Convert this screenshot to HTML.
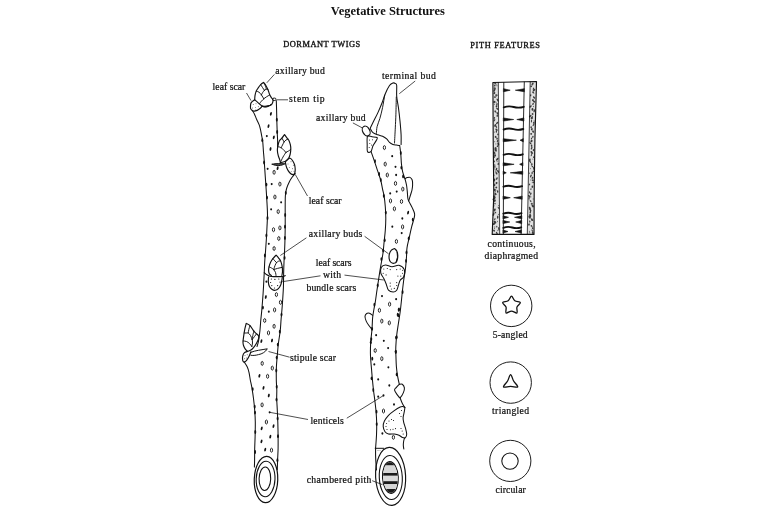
<!DOCTYPE html>
<html><head><meta charset="utf-8"><title>Vegetative Structures</title>
<style>html,body{margin:0;padding:0;background:#fff;}body{width:768px;height:511px;overflow:hidden;font-family:"Liberation Serif",serif;}svg{display:block;will-change:transform;}</style>
</head><body>
<svg width="768" height="511" viewBox="0 0 768 511" font-family="Liberation Serif, serif" fill="#111"><text x="330.8" y="15.3" font-size="12.4" font-weight="bold" textLength="114" lengthAdjust="spacingAndGlyphs">Vegetative Structures</text>
<text x="283.2" y="46.8" font-size="8.4" font-weight="normal" textLength="77" lengthAdjust="spacing" stroke="#111" stroke-width="0.35">DORMANT TWIGS</text>
<text x="470.3" y="47.6" font-size="8.4" font-weight="normal" textLength="69.7" lengthAdjust="spacing" stroke="#111" stroke-width="0.35">PITH FEATURES</text>
<text x="275.2" y="73.6" font-size="9.7" font-weight="normal" textLength="49.6" lengthAdjust="spacing" stroke="#111" stroke-width="0.22">axillary bud</text>
<text x="212.6" y="90" font-size="9.7" font-weight="normal" textLength="32.7" lengthAdjust="spacing" stroke="#111" stroke-width="0.22">leaf scar</text>
<text x="289.1" y="102.4" font-size="9.7" font-weight="normal" textLength="35.6" lengthAdjust="spacing" stroke="#111" stroke-width="0.22">stem tip</text>
<text x="382" y="78.6" font-size="9.7" font-weight="normal" textLength="53.8" lengthAdjust="spacing" stroke="#111" stroke-width="0.22">terminal bud</text>
<text x="316" y="121.4" font-size="9.7" font-weight="normal" textLength="49.6" lengthAdjust="spacing" stroke="#111" stroke-width="0.22">axillary bud</text>
<text x="308.8" y="204" font-size="9.7" font-weight="normal" textLength="32.8" lengthAdjust="spacing" stroke="#111" stroke-width="0.22">leaf scar</text>
<text x="308.8" y="236.8" font-size="9.7" font-weight="normal" textLength="53.5" lengthAdjust="spacing" stroke="#111" stroke-width="0.22">axillary buds</text>
<text x="315.8" y="265.5" font-size="9.7" font-weight="normal" textLength="35.7" lengthAdjust="spacing" stroke="#111" stroke-width="0.22">leaf scars</text>
<text x="322.9" y="278.4" font-size="9.7" font-weight="normal" textLength="18.3" lengthAdjust="spacing" stroke="#111" stroke-width="0.22">with</text>
<text x="306.4" y="290.8" font-size="9.7" font-weight="normal" textLength="49.8" lengthAdjust="spacing" stroke="#111" stroke-width="0.22">bundle scars</text>
<text x="289.9" y="361" font-size="9.7" font-weight="normal" textLength="46.1" lengthAdjust="spacing" stroke="#111" stroke-width="0.22">stipule scar</text>
<text x="310.5" y="423.5" font-size="9.7" font-weight="normal" textLength="33.4" lengthAdjust="spacing" stroke="#111" stroke-width="0.22">lenticels</text>
<text x="306.7" y="483.3" font-size="9.7" font-weight="normal" textLength="64.7" lengthAdjust="spacing" stroke="#111" stroke-width="0.22">chambered pith</text>
<text x="487.6" y="247" font-size="9.7" font-weight="normal" textLength="48" lengthAdjust="spacing" stroke="#111" stroke-width="0.22">continuous,</text>
<text x="484.6" y="259" font-size="9.7" font-weight="normal" textLength="53.4" lengthAdjust="spacing" stroke="#111" stroke-width="0.22">diaphragmed</text>
<text x="492.7" y="338.2" font-size="9.7" font-weight="normal" textLength="35" lengthAdjust="spacing" stroke="#111" stroke-width="0.22">5-angled</text>
<text x="492.1" y="414" font-size="9.7" font-weight="normal" textLength="36.9" lengthAdjust="spacing" stroke="#111" stroke-width="0.22">triangled</text>
<text x="495.5" y="493.1" font-size="9.7" font-weight="normal" textLength="30.3" lengthAdjust="spacing" stroke="#111" stroke-width="0.22">circular</text>
<line x1="274.4" y1="74.4" x2="266.8" y2="82.8" stroke="#222" stroke-width="0.8"/>
<line x1="246.5" y1="93" x2="251" y2="100.6" stroke="#222" stroke-width="0.8"/>
<line x1="277" y1="99.8" x2="288" y2="99.8" stroke="#222" stroke-width="0.8"/>
<line x1="415.2" y1="81" x2="399.3" y2="93.7" stroke="#222" stroke-width="0.8"/>
<line x1="352.9" y1="122.9" x2="362.5" y2="128" stroke="#222" stroke-width="0.8"/>
<line x1="295.2" y1="174.4" x2="307.5" y2="196" stroke="#222" stroke-width="0.8"/>
<line x1="280.3" y1="255.5" x2="306.4" y2="237.8" stroke="#222" stroke-width="0.8"/>
<line x1="364.6" y1="236.3" x2="388.5" y2="253.8" stroke="#222" stroke-width="0.8"/>
<line x1="282.3" y1="281.7" x2="320.5" y2="275.8" stroke="#222" stroke-width="0.8"/>
<line x1="344.5" y1="275.1" x2="383.8" y2="280" stroke="#222" stroke-width="0.8"/>
<line x1="268.5" y1="351.5" x2="289.6" y2="357.2" stroke="#222" stroke-width="0.8"/>
<line x1="269.6" y1="412.3" x2="308" y2="419.5" stroke="#222" stroke-width="0.8"/>
<line x1="346.8" y1="418.2" x2="383.5" y2="395.5" stroke="#222" stroke-width="0.8"/>
<line x1="372.2" y1="480.7" x2="382.5" y2="484.7" stroke="#222" stroke-width="0.8"/>
<path d="M252.2,110.4 C252.57,110.98 253.67,112.43 254.4,113.9 C255.13,115.37 255.8,117.37 256.6,119.2 C257.4,121.03 258.55,123.15 259.2,124.9 C259.85,126.65 260.08,127.87 260.5,129.7 C260.92,131.53 261.33,133.98 261.7,135.9 C262.07,137.82 262.42,138.68 262.7,141.2 C262.98,143.72 263.17,147.98 263.4,151 C263.63,154.02 263.78,154.97 264.1,159.3 C264.42,163.63 264.95,171.88 265.3,177 C265.65,182.12 265.92,185.67 266.2,190 C266.48,194.33 266.78,198.83 267,203 C267.22,207.17 267.5,211.05 267.5,215 C267.5,218.95 267.18,222.78 267,226.7 C266.82,230.62 266.63,234.58 266.4,238.5 C266.17,242.42 265.88,246.28 265.6,250.2 C265.32,254.12 264.93,258.12 264.7,262 C264.47,265.88 264.47,268.25 264.2,273.5 C263.93,278.75 263.52,287.23 263.1,293.5 C262.68,299.77 262.08,306.68 261.7,311.1 C261.32,315.52 261.1,316.68 260.8,320 C260.5,323.32 260.28,327.48 259.9,331 C259.52,334.52 258.98,338.52 258.5,341.1 C258.02,343.68 257.25,345.6 257,346.5" fill="none" stroke="#111" stroke-width="1.05" stroke-linecap="round" stroke-linejoin="round"/>
<path d="M244,361.8 C244.55,362.67 246.45,365.17 247.3,367 C248.15,368.83 248.6,370.63 249.1,372.8 C249.6,374.97 249.87,377.68 250.3,380 C250.73,382.32 251.17,383.62 251.7,386.7 C252.23,389.78 253,394.58 253.5,398.5 C254,402.42 254.4,406.28 254.7,410.2 C255,414.12 255.23,417.58 255.3,422 C255.37,426.42 255.2,432.28 255.1,436.7 C255,441.12 254.78,444.58 254.7,448.5 C254.62,452.42 254.65,457.12 254.6,460.2 C254.55,463.28 254.43,465.87 254.4,467" fill="none" stroke="#111" stroke-width="1.05" stroke-linecap="round" stroke-linejoin="round"/>
<path d="M276.3,100.5 C276.35,102.08 276.52,106.8 276.6,110 C276.68,113.2 276.7,116.03 276.8,119.7 C276.9,123.37 277.07,128.62 277.2,132 C277.33,135.38 277.53,137.6 277.6,140 C277.67,142.4 277.6,145.33 277.6,146.4" fill="none" stroke="#111" stroke-width="1.05" stroke-linecap="round" stroke-linejoin="round"/>
<path d="M295.2,173.4 C294.72,174 293.25,175.65 292.3,177 C291.35,178.35 290.45,179.58 289.5,181.5 C288.55,183.42 287.28,186.22 286.6,188.5 C285.92,190.78 285.63,192.45 285.4,195.2 C285.17,197.95 285.23,201.87 285.2,205 C285.17,208.13 285.2,210.38 285.2,214 C285.2,217.62 285.23,222.62 285.2,226.7 C285.17,230.78 285.1,234.58 285,238.5 C284.9,242.42 284.77,246.28 284.6,250.2 C284.43,254.12 284.17,257.87 284,262 C283.83,266.13 283.7,270.73 283.6,275 C283.5,279.27 283.62,282.57 283.4,287.6 C283.18,292.63 282.68,299.92 282.3,305.2 C281.92,310.48 281.45,315 281.1,319.3 C280.75,323.6 280.65,326.97 280.2,331 C279.75,335.03 278.88,339.47 278.4,343.5 C277.92,347.53 277.63,351.28 277.3,355.2 C276.97,359.12 276.57,362.87 276.4,367 C276.23,371.13 276.23,376.17 276.3,380 C276.37,383.83 276.73,386.92 276.8,390 C276.87,393.08 276.62,395.13 276.7,398.5 C276.78,401.87 277.12,406.28 277.3,410.2 C277.48,414.12 277.67,417.58 277.8,422 C277.93,426.42 278.05,432.28 278.1,436.7 C278.15,441.12 278.18,444.58 278.1,448.5 C278.02,452.42 277.73,456.65 277.6,460.2 C277.47,463.75 277.35,468.2 277.3,469.8" fill="none" stroke="#111" stroke-width="1.05" stroke-linecap="round" stroke-linejoin="round"/>
<ellipse cx="274.3" cy="99.3" rx="1.8" ry="1.25" fill="none" stroke="#111" stroke-width="1.0"/>
<path d="M254.7,99.8 C254.75,99.1 254.77,97 255,95.6 C255.23,94.2 255.57,92.68 256.1,91.4 C256.63,90.12 257.43,89.02 258.2,87.9 C258.97,86.78 259.82,85.62 260.7,84.7 C261.58,83.78 263.03,82.78 263.5,82.4 L263.5,82.4 C263.92,82.95 265.23,84.43 266,85.7 C266.77,86.97 267.52,88.58 268.1,90 C268.68,91.42 268.98,92.97 269.5,94.2 C270.02,95.43 270.68,96.58 271.2,97.4 C271.72,98.22 272.3,98.47 272.6,99.1 C272.9,99.73 273.12,100.37 273,101.2 C272.88,102.03 272.43,103.38 271.9,104.1 C271.37,104.82 270.85,105.15 269.8,105.5 C268.75,105.85 266.88,106.08 265.6,106.2 C264.32,106.32 262.68,106.2 262.1,106.2" fill="none" stroke="#111" stroke-width="1.15" stroke-linecap="round" stroke-linejoin="round"/>
<path d="M254.7,99.8 C255.12,100.15 256.38,101.18 257.2,101.9 C258.02,102.62 258.78,103.42 259.6,104.1 C260.42,104.78 261.68,105.68 262.1,106" fill="none" stroke="#111" stroke-width="1.1" stroke-linecap="round" stroke-linejoin="round"/>
<path d="M256.3,91.2 C256.75,91.37 258.15,91.58 259,92.2 C259.85,92.82 260.6,93.8 261.4,94.9 C262.2,96 263.4,98.15 263.8,98.8" fill="none" stroke="#111" stroke-width="0.95" stroke-linecap="round" stroke-linejoin="round"/>
<path d="M263.8,98.8 C264.25,98.47 265.53,97.43 266.5,96.8 C267.47,96.17 269.08,95.3 269.6,95" fill="none" stroke="#111" stroke-width="0.95" stroke-linecap="round" stroke-linejoin="round"/>
<path d="M263.8,98.8 C263.4,99.2 262.1,100.4 261.4,101.2 C260.7,102 259.9,103.2 259.6,103.6" fill="none" stroke="#111" stroke-width="0.95" stroke-linecap="round" stroke-linejoin="round"/>
<path d="M260.7,84.7 C261,85.17 261.88,86.57 262.5,87.5 C263.12,88.43 264.08,89.83 264.4,90.3" fill="none" stroke="#111" stroke-width="0.95" stroke-linecap="round" stroke-linejoin="round"/>
<path d="M264.4,90.3 C264.1,90.68 263.1,91.83 262.6,92.6 C262.1,93.37 261.6,94.52 261.4,94.9" fill="none" stroke="#111" stroke-width="0.95" stroke-linecap="round" stroke-linejoin="round"/>
<path d="M264.4,90.3 C264.7,90.12 265.6,89.32 266.2,89.2 C266.8,89.08 267.7,89.53 268,89.6" fill="none" stroke="#111" stroke-width="0.95" stroke-linecap="round" stroke-linejoin="round"/>
<path d="M263.9,83 C264.17,83.53 265.12,85.23 265.5,86.2 C265.88,87.17 266.08,88.37 266.2,88.8" fill="none" stroke="#111" stroke-width="0.9" stroke-linecap="round" stroke-linejoin="round"/>
<path d="M262.1,106.2 C264,107.6 267,107.8 271.2,104.6 C268.5,106.4 265.5,106.9 262.1,106.2Z" fill="#555" stroke="#111" stroke-width="1.0" stroke-linecap="round" stroke-linejoin="round"/>
<path d="M254.7,99.8 C254.12,100.27 251.9,101.53 251.2,102.6 C250.5,103.67 250.57,105.13 250.5,106.2 C250.43,107.27 250.28,108.18 250.8,109 C251.32,109.82 252.53,110.87 253.6,111.1 C254.67,111.33 256.08,110.87 257.2,110.4 C258.32,109.93 259.48,109 260.3,108.3 C261.12,107.6 261.8,106.55 262.1,106.2" fill="none" stroke="#111" stroke-width="1.15" stroke-linecap="round" stroke-linejoin="round"/>
<circle cx="253.2" cy="104.5" r="0.45" fill="#111"/>
<circle cx="256" cy="103.8" r="0.45" fill="#111"/>
<circle cx="252.6" cy="108" r="0.45" fill="#111"/>
<circle cx="255.4" cy="107.6" r="0.45" fill="#111"/>
<circle cx="258.3" cy="106.8" r="0.45" fill="#111"/>
<circle cx="255.8" cy="110" r="0.45" fill="#111"/>
<path d="M280.4,162.7 C280.28,162.2 280.07,160.93 279.7,159.7 C279.33,158.47 278.58,156.78 278.2,155.3 C277.82,153.82 277.47,152.3 277.4,150.8 C277.33,149.3 277.48,147.92 277.8,146.3 C278.12,144.68 278.62,142.45 279.3,141.1 C279.98,139.75 281.03,139.3 281.9,138.2 C282.77,137.1 284.07,135.12 284.5,134.5 L284.5,134.5 C284.93,135.12 286.37,137.22 287.1,138.2 C287.83,139.18 288.35,139.28 288.9,140.4 C289.45,141.52 290.08,143.42 290.4,144.9 C290.72,146.38 290.85,147.7 290.8,149.3 C290.75,150.9 290.47,153.02 290.1,154.5 C289.73,155.98 289.35,157.08 288.6,158.2 C287.85,159.32 286.97,160.45 285.6,161.2 C284.23,161.95 281.27,162.45 280.4,162.7" fill="none" stroke="#111" stroke-width="1.15" stroke-linecap="round" stroke-linejoin="round"/>
<path d="M281.9,138.2 C282.08,138.5 282.63,139.38 283,140 C283.37,140.62 283.92,141.58 284.1,141.9" fill="none" stroke="#111" stroke-width="0.95" stroke-linecap="round" stroke-linejoin="round"/>
<path d="M284.1,141.9 C284.42,141.58 285.35,140.45 286,140 C286.65,139.55 287.67,139.33 288,139.2" fill="none" stroke="#111" stroke-width="0.95" stroke-linecap="round" stroke-linejoin="round"/>
<path d="M284.1,141.9 C283.83,142.42 283,144.02 282.5,145 C282,145.98 281.33,147.33 281.1,147.8" fill="none" stroke="#111" stroke-width="0.95" stroke-linecap="round" stroke-linejoin="round"/>
<path d="M277.8,146.7 C278.08,146.75 278.95,146.82 279.5,147 C280.05,147.18 280.43,147.33 281.1,147.8 C281.77,148.27 282.68,149.05 283.5,149.8 C284.32,150.55 285.58,151.88 286,152.3" fill="none" stroke="#111" stroke-width="0.95" stroke-linecap="round" stroke-linejoin="round"/>
<path d="M286,152.3 C286.42,152.08 287.72,151.47 288.5,151 C289.28,150.53 290.33,149.75 290.7,149.5" fill="none" stroke="#111" stroke-width="0.95" stroke-linecap="round" stroke-linejoin="round"/>
<path d="M286,152.3 C285.5,153.08 283.93,155.3 283,157 C282.07,158.7 280.83,161.58 280.4,162.5" fill="none" stroke="#111" stroke-width="0.95" stroke-linecap="round" stroke-linejoin="round"/>
<path d="M272.2,164.2 C276,163.4 280.5,163.6 284.9,163.8 C281.5,165.8 276.5,166.4 272.2,164.2Z" fill="#555" stroke="#111" stroke-width="1.0" stroke-linecap="round" stroke-linejoin="round"/>
<path d="M285.6,161.5 C285.92,160.83 286.75,160.05 287.5,159.5 C288.25,158.95 289.27,158.03 290.1,158.2 C290.93,158.37 291.77,159.45 292.5,160.5 C293.23,161.55 294.05,163.08 294.5,164.5 C294.95,165.92 295.15,167.58 295.2,169 C295.25,170.42 295.17,172.07 294.8,173 C294.43,173.93 293.88,174.68 293,174.6 C292.12,174.52 290.53,173.6 289.5,172.5 C288.47,171.4 287.45,169.5 286.8,168 C286.15,166.5 285.8,164.58 285.6,163.5 C285.4,162.42 285.28,162.17 285.6,161.5Z" fill="none" stroke="#111" stroke-width="1.15" stroke-linecap="round" stroke-linejoin="round"/>
<circle cx="288" cy="164" r="0.45" fill="#111"/>
<circle cx="291" cy="161.8" r="0.45" fill="#111"/>
<circle cx="293.3" cy="165.2" r="0.45" fill="#111"/>
<circle cx="289.3" cy="167.4" r="0.45" fill="#111"/>
<circle cx="292.6" cy="168.8" r="0.45" fill="#111"/>
<circle cx="291.2" cy="171.6" r="0.45" fill="#111"/>
<circle cx="294" cy="171.2" r="0.45" fill="#111"/>
<path d="M271.4,275.5 C271.07,275.23 269.87,274.68 269.4,273.9 C268.93,273.12 268.67,271.97 268.6,270.8 C268.53,269.63 268.67,268.33 269,266.9 C269.33,265.47 269.95,263.58 270.6,262.2 C271.25,260.82 271.98,259.78 272.9,258.6 C273.82,257.42 275.57,255.68 276.1,255.1 L276.1,255.1 C276.55,255.63 278.02,257.25 278.8,258.3 C279.58,259.35 280.23,259.97 280.8,261.4 C281.37,262.83 281.92,265.22 282.2,266.9 C282.48,268.58 282.55,270.07 282.5,271.5 C282.45,272.93 282,274.83 281.9,275.5" fill="none" stroke="#111" stroke-width="1.15" stroke-linecap="round" stroke-linejoin="round"/>
<path d="M272.9,258.6 C273.22,258.97 274.2,260.13 274.8,260.8 C275.4,261.47 276.22,262.3 276.5,262.6" fill="none" stroke="#111" stroke-width="0.95" stroke-linecap="round" stroke-linejoin="round"/>
<path d="M276.5,262.6 C276.83,262.37 277.85,261.47 278.5,261.2 C279.15,260.93 280.08,261.03 280.4,261" fill="none" stroke="#111" stroke-width="0.95" stroke-linecap="round" stroke-linejoin="round"/>
<path d="M276.5,262.6 C276.25,263.08 275.47,264.33 275,265.5 C274.53,266.67 273.92,268.92 273.7,269.6" fill="none" stroke="#111" stroke-width="0.95" stroke-linecap="round" stroke-linejoin="round"/>
<path d="M269.2,266.9 C269.58,267.08 270.75,267.55 271.5,268 C272.25,268.45 273.03,268.85 273.7,269.6 C274.37,270.35 275.12,271.52 275.5,272.5 C275.88,273.48 275.92,275 276,275.5" fill="none" stroke="#111" stroke-width="0.95" stroke-linecap="round" stroke-linejoin="round"/>
<path d="M273.7,269.6 C274.33,269.4 276.12,268.77 277.5,268.4 C278.88,268.03 281.25,267.57 282,267.4" fill="none" stroke="#111" stroke-width="0.95" stroke-linecap="round" stroke-linejoin="round"/>
<path d="M264.3,272.7 C264.7,273.03 265.78,274.12 266.7,274.7 C267.62,275.28 268.5,275.88 269.8,276.2 C271.1,276.52 272.8,276.53 274.5,276.6 C276.2,276.67 278.43,276.67 280,276.6 C281.57,276.53 283.03,276.37 283.9,276.2 C284.77,276.03 284.98,275.7 285.2,275.6" fill="none" stroke="#111" stroke-width="1.15" stroke-linecap="round" stroke-linejoin="round"/>
<path d="M268.6,277 C268.55,277.78 268.17,280.13 268.3,281.7 C268.43,283.27 268.75,285.1 269.4,286.4 C270.05,287.7 271.22,288.85 272.2,289.5 C273.18,290.15 274.27,290.43 275.3,290.3 C276.33,290.17 277.48,289.62 278.4,288.7 C279.32,287.78 280.22,286.23 280.8,284.8 C281.38,283.37 281.65,281.4 281.9,280.1 C282.15,278.8 282.23,277.52 282.3,277" fill="none" stroke="#111" stroke-width="1.15" stroke-linecap="round" stroke-linejoin="round"/>
<circle cx="271.4" cy="279" r="0.62" fill="#111"/>
<circle cx="274.9" cy="279.4" r="0.62" fill="#111"/>
<circle cx="278.8" cy="279" r="0.62" fill="#111"/>
<circle cx="270.6" cy="282.5" r="0.62" fill="#111"/>
<circle cx="280" cy="282.1" r="0.62" fill="#111"/>
<circle cx="271.8" cy="285.6" r="0.62" fill="#111"/>
<circle cx="277.6" cy="285.6" r="0.62" fill="#111"/>
<circle cx="274.5" cy="288" r="0.62" fill="#111"/>
<path d="M247.5,351.4 C247.13,351.03 245.95,350.13 245.3,349.2 C244.65,348.27 243.98,346.93 243.6,345.8 C243.22,344.67 243.05,343.55 243,342.4 C242.95,341.25 243.13,340.33 243.3,338.9 C243.47,337.47 243.73,335.52 244,333.8 C244.27,332.08 244.53,330.33 244.9,328.6 C245.27,326.87 245.98,324.27 246.2,323.4 L246.2,323.4 C246.83,323.77 248.72,324.3 250,325.6 C251.28,326.9 252.82,329.83 253.9,331.2 C254.98,332.57 255.72,333.02 256.5,333.8 C257.28,334.58 258.27,335.05 258.6,335.9 C258.93,336.75 258.85,337.68 258.5,338.9 C258.15,340.12 257.27,341.83 256.5,343.2 C255.73,344.57 254.83,345.95 253.9,347.1 C252.97,348.25 251.97,349.38 250.9,350.1 C249.83,350.82 248.07,351.18 247.5,351.4" fill="none" stroke="#111" stroke-width="1.15" stroke-linecap="round" stroke-linejoin="round"/>
<path d="M250,325.6 C249.8,326.25 249.1,328.27 248.8,329.5 C248.5,330.73 248.3,332.42 248.2,333" fill="none" stroke="#111" stroke-width="0.95" stroke-linecap="round" stroke-linejoin="round"/>
<path d="M244.2,333 C244.55,333 245.63,333 246.3,333 C246.97,333 247.5,332.58 248.2,333 C248.9,333.42 249.83,334.42 250.5,335.5 C251.17,336.58 251.92,338.83 252.2,339.5" fill="none" stroke="#111" stroke-width="0.95" stroke-linecap="round" stroke-linejoin="round"/>
<path d="M252.2,339.5 C252.58,339 253.78,337.45 254.5,336.5 C255.22,335.55 256.17,334.25 256.5,333.8" fill="none" stroke="#111" stroke-width="0.95" stroke-linecap="round" stroke-linejoin="round"/>
<path d="M253.9,331.2 C253.75,331.75 253.28,333.12 253,334.5 C252.72,335.88 252.33,338.67 252.2,339.5" fill="none" stroke="#111" stroke-width="0.95" stroke-linecap="round" stroke-linejoin="round"/>
<path d="M243.2,341 C243.75,341.08 245.45,341.08 246.5,341.5 C247.55,341.92 248.62,342.67 249.5,343.5 C250.38,344.33 251.42,346 251.8,346.5" fill="none" stroke="#111" stroke-width="0.95" stroke-linecap="round" stroke-linejoin="round"/>
<path d="M252.2,339.5 C252.25,340.08 252.57,341.83 252.5,343 C252.43,344.17 251.92,345.92 251.8,346.5" fill="none" stroke="#111" stroke-width="0.95" stroke-linecap="round" stroke-linejoin="round"/>
<path d="M247.5,351.4 C247,351.62 245.3,351.92 244.5,352.7 C243.7,353.48 243,354.82 242.7,356.1 C242.4,357.38 242.48,359.4 242.7,360.4 C242.92,361.4 243.35,362.1 244,362.1 C244.65,362.1 245.73,361.4 246.6,360.4 C247.47,359.4 248.48,357.53 249.2,356.1 C249.92,354.67 250.62,352.52 250.9,351.8" fill="none" stroke="#111" stroke-width="1.15" stroke-linecap="round" stroke-linejoin="round"/>
<circle cx="245" cy="355.5" r="0.45" fill="#111"/>
<circle cx="247.2" cy="354.8" r="0.45" fill="#111"/>
<circle cx="244.4" cy="358.8" r="0.45" fill="#111"/>
<circle cx="246.3" cy="358" r="0.45" fill="#111"/>
<path d="M250.9,352.3 C255,350.5 262,349.8 267.3,348.8 C265.5,352 262,354 258.5,354.6 C255.5,355.5 252.5,355.6 250.9,355.3" fill="none" stroke="#111" stroke-width="1.0" stroke-linecap="round" stroke-linejoin="round"/>
<ellipse cx="266" cy="479.5" rx="11.75" ry="23.2" fill="none" stroke="#111" stroke-width="1.2" transform="rotate(2 266 479.5)"/>
<ellipse cx="265.6" cy="479" rx="9.4" ry="17.7" fill="none" stroke="#111" stroke-width="1.1" transform="rotate(2 265.6 479)"/>
<ellipse cx="264.9" cy="478.7" rx="5.8" ry="11.75" fill="none" stroke="#111" stroke-width="1.1" transform="rotate(2 264.9 478.7)"/>
<ellipse cx="274.1" cy="172.3" rx="1.1" ry="2" fill="none" stroke="#111" stroke-width="0.9"/>
<ellipse cx="279.9" cy="184.1" rx="1.1" ry="2" fill="none" stroke="#111" stroke-width="0.9"/>
<ellipse cx="274.9" cy="197" rx="1.1" ry="2" fill="none" stroke="#111" stroke-width="0.9"/>
<ellipse cx="278.2" cy="211.6" rx="1.1" ry="2" fill="none" stroke="#111" stroke-width="0.9"/>
<ellipse cx="273.5" cy="229.7" rx="1.1" ry="2" fill="none" stroke="#111" stroke-width="0.9"/>
<ellipse cx="279.9" cy="227.9" rx="1.1" ry="2" fill="none" stroke="#111" stroke-width="0.9"/>
<ellipse cx="278.8" cy="238.5" rx="1.1" ry="2" fill="none" stroke="#111" stroke-width="0.9"/>
<ellipse cx="274.1" cy="248.5" rx="1.1" ry="2" fill="none" stroke="#111" stroke-width="0.9"/>
<ellipse cx="276.4" cy="294.6" rx="1.1" ry="2" fill="none" stroke="#111" stroke-width="0.9"/>
<ellipse cx="280.5" cy="302.3" rx="1.1" ry="2" fill="none" stroke="#111" stroke-width="0.9"/>
<ellipse cx="274.6" cy="309.9" rx="1.1" ry="2" fill="none" stroke="#111" stroke-width="0.9"/>
<ellipse cx="264.7" cy="320.5" rx="1.1" ry="2" fill="none" stroke="#111" stroke-width="0.9"/>
<ellipse cx="274.1" cy="326.3" rx="1.1" ry="2" fill="none" stroke="#111" stroke-width="0.9"/>
<ellipse cx="268.5" cy="332.9" rx="1.1" ry="2" fill="none" stroke="#111" stroke-width="0.9"/>
<ellipse cx="262.2" cy="363.4" rx="1.1" ry="2" fill="none" stroke="#111" stroke-width="0.9"/>
<ellipse cx="272.3" cy="368.1" rx="1.1" ry="2" fill="none" stroke="#111" stroke-width="0.9"/>
<ellipse cx="267.6" cy="376.3" rx="1.1" ry="2" fill="none" stroke="#111" stroke-width="0.9"/>
<ellipse cx="262.1" cy="404.9" rx="1.1" ry="2" fill="none" stroke="#111" stroke-width="0.9"/>
<ellipse cx="266.4" cy="422" rx="1.1" ry="2" fill="none" stroke="#111" stroke-width="0.9"/>
<ellipse cx="271.5" cy="450.2" rx="1.1" ry="2" fill="none" stroke="#111" stroke-width="0.9"/>
<ellipse cx="384.4" cy="147.6" rx="1.1" ry="2" fill="none" stroke="#111" stroke-width="0.9"/>
<ellipse cx="385.2" cy="164.1" rx="1.1" ry="2" fill="none" stroke="#111" stroke-width="0.9"/>
<ellipse cx="387.3" cy="175" rx="1.1" ry="2" fill="none" stroke="#111" stroke-width="0.9"/>
<ellipse cx="395.5" cy="183.4" rx="1.1" ry="2" fill="none" stroke="#111" stroke-width="0.9"/>
<ellipse cx="402.8" cy="189.1" rx="1.1" ry="2" fill="none" stroke="#111" stroke-width="0.9"/>
<ellipse cx="390.5" cy="200.9" rx="1.1" ry="2" fill="none" stroke="#111" stroke-width="0.9"/>
<ellipse cx="401.5" cy="201.5" rx="1.1" ry="2" fill="none" stroke="#111" stroke-width="0.9"/>
<ellipse cx="394.4" cy="208.8" rx="1.1" ry="2" fill="none" stroke="#111" stroke-width="0.9"/>
<ellipse cx="402.6" cy="226.9" rx="1.1" ry="2" fill="none" stroke="#111" stroke-width="0.9"/>
<ellipse cx="396.4" cy="241.4" rx="1.1" ry="2" fill="none" stroke="#111" stroke-width="0.9"/>
<ellipse cx="389.6" cy="304.2" rx="1.1" ry="2" fill="none" stroke="#111" stroke-width="0.9"/>
<ellipse cx="379.4" cy="310.3" rx="1.1" ry="2" fill="none" stroke="#111" stroke-width="0.9"/>
<ellipse cx="381.8" cy="321.1" rx="1.1" ry="2" fill="none" stroke="#111" stroke-width="0.9"/>
<ellipse cx="389.3" cy="322.9" rx="1.1" ry="2" fill="none" stroke="#111" stroke-width="0.9"/>
<ellipse cx="375.2" cy="350.5" rx="1.1" ry="2" fill="none" stroke="#111" stroke-width="0.9"/>
<ellipse cx="381.8" cy="358.7" rx="1.1" ry="2" fill="none" stroke="#111" stroke-width="0.9"/>
<ellipse cx="383.5" cy="411" rx="1.1" ry="2" fill="none" stroke="#111" stroke-width="0.9"/>
<ellipse cx="393.4" cy="437.3" rx="1.1" ry="2" fill="none" stroke="#111" stroke-width="0.9"/>
<ellipse cx="270.9" cy="113.8" rx="0.95" ry="1.9" fill="#111" transform="rotate(12 270.9 113.8)"/>
<ellipse cx="268.5" cy="126.1" rx="0.95" ry="1.9" fill="#111" transform="rotate(12 268.5 126.1)"/>
<ellipse cx="273.8" cy="137.3" rx="0.95" ry="1.9" fill="#111" transform="rotate(12 273.8 137.3)"/>
<ellipse cx="270.5" cy="149" rx="0.95" ry="1.9" fill="#111" transform="rotate(12 270.5 149)"/>
<ellipse cx="277.6" cy="168.2" rx="0.95" ry="1.9" fill="#111" transform="rotate(12 277.6 168.2)"/>
<ellipse cx="265.8" cy="297" rx="0.95" ry="1.9" fill="#111" transform="rotate(12 265.8 297)"/>
<ellipse cx="261.4" cy="341.1" rx="0.95" ry="1.9" fill="#111" transform="rotate(12 261.4 341.1)"/>
<ellipse cx="272" cy="340.5" rx="0.95" ry="1.9" fill="#111" transform="rotate(12 272 340.5)"/>
<ellipse cx="259.4" cy="375.8" rx="0.95" ry="1.9" fill="#111" transform="rotate(12 259.4 375.8)"/>
<ellipse cx="263.5" cy="387.9" rx="0.95" ry="1.9" fill="#111" transform="rotate(12 263.5 387.9)"/>
<ellipse cx="268.8" cy="395.5" rx="0.95" ry="1.9" fill="#111" transform="rotate(12 268.8 395.5)"/>
<ellipse cx="261.7" cy="428.4" rx="0.95" ry="1.9" fill="#111" transform="rotate(12 261.7 428.4)"/>
<ellipse cx="273.5" cy="426.1" rx="0.95" ry="1.9" fill="#111" transform="rotate(12 273.5 426.1)"/>
<ellipse cx="270.3" cy="436.7" rx="0.95" ry="1.9" fill="#111" transform="rotate(12 270.3 436.7)"/>
<ellipse cx="261.5" cy="441.4" rx="0.95" ry="1.9" fill="#111" transform="rotate(12 261.5 441.4)"/>
<ellipse cx="265.2" cy="449.6" rx="0.95" ry="1.9" fill="#111" transform="rotate(12 265.2 449.6)"/>
<ellipse cx="408.1" cy="212.6" rx="0.95" ry="1.9" fill="#111" transform="rotate(12 408.1 212.6)"/>
<ellipse cx="266.8" cy="136.1" rx="1" ry="1.15" fill="#111"/>
<ellipse cx="267.6" cy="168.8" rx="1" ry="1.15" fill="#111"/>
<ellipse cx="271.7" cy="184.1" rx="1" ry="1.15" fill="#111"/>
<ellipse cx="281.1" cy="202.3" rx="1" ry="1.15" fill="#111"/>
<ellipse cx="271.1" cy="209.3" rx="1" ry="1.15" fill="#111"/>
<ellipse cx="268.8" cy="243.8" rx="1" ry="1.15" fill="#111"/>
<ellipse cx="266.4" cy="281.7" rx="1" ry="1.15" fill="#111"/>
<ellipse cx="268.8" cy="311.7" rx="1" ry="1.15" fill="#111"/>
<ellipse cx="269.6" cy="412.3" rx="1" ry="1.15" fill="#111"/>
<ellipse cx="392.2" cy="156.2" rx="1" ry="1.15" fill="#111"/>
<ellipse cx="395.5" cy="166.8" rx="1" ry="1.15" fill="#111"/>
<ellipse cx="396.1" cy="175" rx="1" ry="1.15" fill="#111"/>
<ellipse cx="390.2" cy="193.4" rx="1" ry="1.15" fill="#111"/>
<ellipse cx="396.7" cy="191.6" rx="1" ry="1.15" fill="#111"/>
<ellipse cx="402.3" cy="218.5" rx="1" ry="1.15" fill="#111"/>
<ellipse cx="392.3" cy="226.7" rx="1" ry="1.15" fill="#111"/>
<ellipse cx="401.7" cy="233.1" rx="1" ry="1.15" fill="#111"/>
<ellipse cx="382" cy="296.1" rx="1" ry="1.15" fill="#111"/>
<ellipse cx="396.1" cy="299.2" rx="1" ry="1.15" fill="#111"/>
<ellipse cx="376.1" cy="335.2" rx="1" ry="1.15" fill="#111"/>
<ellipse cx="383.8" cy="340.8" rx="1" ry="1.15" fill="#111"/>
<ellipse cx="388.1" cy="348.1" rx="1" ry="1.15" fill="#111"/>
<ellipse cx="374.3" cy="364.4" rx="1" ry="1.15" fill="#111"/>
<ellipse cx="388.4" cy="367.3" rx="1" ry="1.15" fill="#111"/>
<ellipse cx="378.2" cy="379.4" rx="1" ry="1.15" fill="#111"/>
<ellipse cx="389.3" cy="385.5" rx="1" ry="1.15" fill="#111"/>
<ellipse cx="378.2" cy="396.7" rx="1" ry="1.15" fill="#111"/>
<ellipse cx="383.5" cy="395.5" rx="1" ry="1.15" fill="#111"/>
<ellipse cx="394" cy="404.5" rx="1" ry="1.15" fill="#111"/>
<ellipse cx="382.4" cy="433.5" rx="1" ry="1.15" fill="#111"/>
<ellipse cx="262.3" cy="140.2" rx="0.95" ry="1.9" fill="#111"/>
<ellipse cx="264.1" cy="162.5" rx="0.95" ry="1.9" fill="#111"/>
<ellipse cx="266.4" cy="184.6" rx="0.95" ry="1.9" fill="#111"/>
<ellipse cx="267" cy="197.6" rx="0.95" ry="1.9" fill="#111"/>
<ellipse cx="267.5" cy="218" rx="0.95" ry="1.9" fill="#111"/>
<ellipse cx="266.4" cy="235.5" rx="0.95" ry="1.9" fill="#111"/>
<ellipse cx="264.9" cy="255.5" rx="0.95" ry="1.9" fill="#111"/>
<ellipse cx="262.9" cy="307.6" rx="0.95" ry="1.9" fill="#111"/>
<ellipse cx="252.7" cy="389.1" rx="0.95" ry="1.9" fill="#111"/>
<ellipse cx="254.7" cy="406.7" rx="0.95" ry="1.9" fill="#111"/>
<ellipse cx="255" cy="412.6" rx="0.95" ry="1.9" fill="#111"/>
<ellipse cx="255.3" cy="432" rx="0.95" ry="1.9" fill="#111"/>
<ellipse cx="255.1" cy="452" rx="0.95" ry="1.9" fill="#111"/>
<ellipse cx="276.8" cy="119.7" rx="0.95" ry="1.9" fill="#111"/>
<ellipse cx="277.2" cy="132" rx="0.95" ry="1.9" fill="#111"/>
<ellipse cx="285.8" cy="192.9" rx="0.95" ry="1.9" fill="#111"/>
<ellipse cx="285.2" cy="215" rx="0.95" ry="1.9" fill="#111"/>
<ellipse cx="285" cy="226.7" rx="0.95" ry="1.9" fill="#111"/>
<ellipse cx="284.9" cy="237.9" rx="0.95" ry="1.9" fill="#111"/>
<ellipse cx="284.6" cy="257.8" rx="0.95" ry="1.9" fill="#111"/>
<ellipse cx="281.5" cy="314.6" rx="0.95" ry="1.9" fill="#111"/>
<ellipse cx="279.8" cy="331.7" rx="0.95" ry="1.9" fill="#111"/>
<ellipse cx="277.8" cy="344.6" rx="0.95" ry="1.9" fill="#111"/>
<ellipse cx="276.7" cy="357.6" rx="0.95" ry="1.9" fill="#111"/>
<ellipse cx="276.3" cy="370.5" rx="0.95" ry="1.9" fill="#111"/>
<ellipse cx="276.7" cy="386.7" rx="0.95" ry="1.9" fill="#111"/>
<ellipse cx="276.5" cy="399.6" rx="0.95" ry="1.9" fill="#111"/>
<ellipse cx="277.6" cy="418.4" rx="0.95" ry="1.9" fill="#111"/>
<ellipse cx="278" cy="436.2" rx="0.95" ry="1.9" fill="#111"/>
<ellipse cx="277.4" cy="460.2" rx="0.95" ry="1.9" fill="#111"/>
<ellipse cx="375" cy="161.1" rx="0.95" ry="1.9" fill="#111"/>
<ellipse cx="379.1" cy="174" rx="0.95" ry="1.9" fill="#111"/>
<ellipse cx="380.8" cy="179.9" rx="0.95" ry="1.9" fill="#111"/>
<ellipse cx="383.8" cy="195.8" rx="0.95" ry="1.9" fill="#111"/>
<ellipse cx="385.8" cy="212.6" rx="0.95" ry="1.9" fill="#111"/>
<ellipse cx="384.7" cy="240.2" rx="0.95" ry="1.9" fill="#111"/>
<ellipse cx="383.2" cy="250.5" rx="0.95" ry="1.9" fill="#111"/>
<ellipse cx="381.4" cy="259.1" rx="0.95" ry="1.9" fill="#111"/>
<ellipse cx="377.7" cy="285.5" rx="0.95" ry="1.9" fill="#111"/>
<ellipse cx="374.4" cy="304.7" rx="0.95" ry="1.9" fill="#111"/>
<ellipse cx="370.8" cy="342.3" rx="0.95" ry="1.9" fill="#111"/>
<ellipse cx="376.5" cy="411.7" rx="0.95" ry="1.9" fill="#111"/>
<ellipse cx="376.7" cy="424.1" rx="0.95" ry="1.9" fill="#111"/>
<ellipse cx="371.3" cy="339.1" rx="0.95" ry="1.9" fill="#111"/>
<ellipse cx="372.3" cy="358.7" rx="0.95" ry="1.9" fill="#111"/>
<ellipse cx="371.6" cy="378.3" rx="0.95" ry="1.9" fill="#111"/>
<ellipse cx="373.3" cy="390" rx="0.95" ry="1.9" fill="#111"/>
<ellipse cx="398.7" cy="309.8" rx="0.95" ry="1.9" fill="#111"/>
<ellipse cx="397.7" cy="314.7" rx="0.95" ry="1.9" fill="#111"/>
<ellipse cx="396.7" cy="337.2" rx="0.95" ry="1.9" fill="#111"/>
<ellipse cx="395.8" cy="351.9" rx="0.95" ry="1.9" fill="#111"/>
<ellipse cx="396.7" cy="374.4" rx="0.95" ry="1.9" fill="#111"/>
<ellipse cx="400.8" cy="152.9" rx="0.95" ry="1.9" fill="#111"/>
<ellipse cx="401.4" cy="167.6" rx="0.95" ry="1.9" fill="#111"/>
<ellipse cx="403.1" cy="176.4" rx="0.95" ry="1.9" fill="#111"/>
<ellipse cx="412.8" cy="219.6" rx="0.95" ry="1.9" fill="#111"/>
<ellipse cx="408.7" cy="238.4" rx="0.95" ry="1.9" fill="#111"/>
<ellipse cx="406.5" cy="252.5" rx="0.95" ry="1.9" fill="#111"/>
<ellipse cx="406.1" cy="260.8" rx="0.95" ry="1.9" fill="#111"/>
<ellipse cx="402.6" cy="292" rx="0.95" ry="1.9" fill="#111"/>
<ellipse cx="399" cy="309.4" rx="0.95" ry="1.9" fill="#111"/>
<ellipse cx="398.4" cy="315.3" rx="0.95" ry="1.9" fill="#111"/>
<ellipse cx="396.1" cy="337.6" rx="0.95" ry="1.9" fill="#111"/>
<ellipse cx="395.7" cy="351.6" rx="0.95" ry="1.9" fill="#111"/>
<path d="M370.3,127.9 C370.87,126.77 372.45,123.6 373.7,121.1 C374.95,118.6 376.43,115.87 377.8,112.9 C379.17,109.93 380.65,106.5 381.9,103.3 C383.15,100.1 384.03,96.67 385.3,93.7 C386.57,90.73 388.23,87.28 389.5,85.5 C390.77,83.72 391.9,83.32 392.9,83 C393.9,82.68 394.87,83.18 395.5,83.6 C396.13,84.02 396.5,83.37 396.7,85.5 C396.9,87.63 396.42,92.75 396.7,96.4 C396.98,100.05 397.85,103.28 398.4,107.4 C398.95,111.52 399.55,116.53 400,121.1 C400.45,125.67 400.92,130.92 401.1,134.8 C401.28,138.68 401.1,142.8 401.1,144.4" fill="none" stroke="#111" stroke-width="1.05" stroke-linecap="round" stroke-linejoin="round"/>
<path d="M384.7,95.1 C384.35,97.15 383.4,103.52 382.6,107.4 C381.8,111.28 380.82,115.2 379.9,118.4 C378.98,121.6 377.68,124.1 377.1,126.6 C376.52,129.1 376.52,132.27 376.4,133.4" fill="none" stroke="#111" stroke-width="0.95" stroke-linecap="round" stroke-linejoin="round"/>
<path d="M396.3,97.1 C396.23,99.95 396.07,109.07 395.9,114.2 C395.73,119.33 395.53,123.1 395.3,127.9 C395.07,132.7 394.63,140.48 394.5,143" fill="none" stroke="#111" stroke-width="0.95" stroke-linecap="round" stroke-linejoin="round"/>
<path d="M370.3,128.6 C370.75,129.28 371.75,131.67 373,132.7 C374.25,133.73 376.2,134.22 377.8,134.8 C379.4,135.38 381.12,135.52 382.6,136.2 C384.08,136.88 385.55,137.88 386.7,138.9 C387.85,139.92 388.47,141.38 389.5,142.3 C390.53,143.22 391.77,143.93 392.9,144.4 C394.03,144.87 395.17,144.92 396.3,145.1 C397.43,145.28 399.13,145.43 399.7,145.5" fill="none" stroke="#111" stroke-width="1.05" stroke-linecap="round" stroke-linejoin="round"/>
<ellipse cx="366.2" cy="131" rx="3.5" ry="5.2" fill="none" stroke="#111" stroke-width="1.15" transform="rotate(-28 366.2 131)"/>
<path d="M367.5,136.4 C368.3,135.03 370.4,136.62 372,136.8 C373.6,136.98 376.37,136.92 377.1,137.5 C377.83,138.08 377.08,138.92 376.4,140.3 C375.72,141.68 373.9,143.93 373,145.8 C372.1,147.67 371.92,150.52 371,151.5 C370.08,152.48 368.13,152.78 367.5,151.7 C366.87,150.62 367.2,147.55 367.2,145 C367.2,142.45 366.7,137.77 367.5,136.4Z" fill="none" stroke="#111" stroke-width="1.05" stroke-linecap="round" stroke-linejoin="round"/>
<circle cx="369.5" cy="140" r="0.5" fill="#111"/>
<circle cx="372.5" cy="139.8" r="0.5" fill="#111"/>
<circle cx="369.8" cy="143.5" r="0.5" fill="#111"/>
<circle cx="369.2" cy="147.5" r="0.5" fill="#111"/>
<circle cx="371.5" cy="145" r="0.5" fill="#111"/>
<path d="M371,151.5 C371.57,153.1 373.25,157.73 374.4,161.1 C375.55,164.47 376.83,168.47 377.9,171.7 C378.97,174.93 380.02,177.57 380.8,180.5 C381.58,183.43 382.05,186.72 382.6,189.3 C383.15,191.88 383.65,193.1 384.1,196 C384.55,198.9 385.02,202.95 385.3,206.7 C385.58,210.45 385.8,214.58 385.8,218.5 C385.8,222.42 385.58,226.28 385.3,230.2 C385.02,234.12 384.5,238.08 384.1,242 C383.7,245.92 383.53,249.28 382.9,253.7 C382.27,258.12 381.03,264.08 380.3,268.5 C379.57,272.92 379.1,276.28 378.5,280.2 C377.9,284.12 377.23,288.37 376.7,292 C376.17,295.63 375.78,299 375.3,302 C374.82,305 374.25,307.33 373.8,310 C373.35,312.67 372.9,314.78 372.6,318 C372.3,321.22 372.3,325.45 372,329.3 C371.7,333.15 371.07,337.18 370.8,341.1 C370.53,345.02 370.38,349.32 370.4,352.8 C370.42,356.28 370.7,359.13 370.9,362 C371.1,364.87 371.37,367.25 371.6,370 C371.83,372.75 371.98,375.13 372.3,378.5 C372.62,381.87 373.07,386.45 373.5,390.2 C373.93,393.95 374.47,397.37 374.9,401 C375.33,404.63 375.8,408.25 376.1,412 C376.4,415.75 376.63,419.63 376.7,423.5 C376.77,427.37 376.68,431.12 376.5,435.2 C376.32,439.28 375.75,445.87 375.6,448" fill="none" stroke="#111" stroke-width="1.05" stroke-linecap="round" stroke-linejoin="round"/>
<path d="M399.7,145.5 C399.88,146.93 400.52,151.1 400.8,154.1 C401.08,157.1 401.1,160.57 401.4,163.5 C401.7,166.43 402.02,169.17 402.6,171.7 C403.18,174.23 404.25,176.48 404.9,178.7 C405.55,180.92 406.1,182.85 406.5,185 C406.9,187.15 407.08,189.43 407.3,191.6 C407.52,193.77 407.57,196.45 407.8,198 C408.03,199.55 407.95,199.25 408.7,200.9 C409.45,202.55 411.32,205.75 412.3,207.9 C413.28,210.05 414.32,212.03 414.6,213.8 C414.88,215.57 414.48,216.35 414,218.5 C413.52,220.65 412.48,223.57 411.7,226.7 C410.92,229.83 410.08,233.78 409.3,237.3 C408.52,240.82 407.47,244.57 407,247.8 C406.53,251.03 406.75,253.25 406.5,256.7 C406.25,260.15 405.97,264.58 405.5,268.5 C405.03,272.42 404.23,276.28 403.7,280.2 C403.17,284.12 402.67,288.7 402.3,292 C401.93,295.3 401.85,296.72 401.5,300 C401.15,303.28 400.72,307.78 400.2,311.7 C399.68,315.62 398.98,319.58 398.4,323.5 C397.82,327.42 397.13,331.28 396.7,335.2 C396.27,339.12 395.93,343.7 395.8,347 C395.67,350.3 395.8,351.72 395.9,355 C396,358.28 396.12,363.18 396.4,366.7 C396.68,370.22 397.12,373.17 397.6,376.1 C398.08,379.03 399.02,382.93 399.3,384.3" fill="none" stroke="#111" stroke-width="1.05" stroke-linecap="round" stroke-linejoin="round"/>
<path d="M404.9,178.7 C405.3,178.52 406.45,177.82 407.3,177.6 C408.15,177.38 409.18,177 410,177.4 C410.82,177.8 411.77,178.73 412.2,180 C412.63,181.27 412.63,183.33 412.6,185 C412.57,186.67 412.35,188.33 412,190 C411.65,191.67 411.05,193.18 410.5,195 C409.95,196.82 409,199.92 408.7,200.9" fill="none" stroke="#111" stroke-width="1.05" stroke-linecap="round" stroke-linejoin="round"/>
<path d="M393.3,263.4 C392.85,263.17 391.3,262.85 390.6,262 C389.9,261.15 389.3,259.67 389.1,258.3 C388.9,256.93 389.02,255.15 389.4,253.8 C389.78,252.45 390.53,251.08 391.4,250.2 C392.27,249.32 394.07,248.78 394.6,248.5 L394.6,248.5 C394.98,248.95 396.37,250.03 396.9,251.2 C397.43,252.37 397.75,254.03 397.8,255.5 C397.85,256.97 397.53,258.82 397.2,260 C396.87,261.18 396.45,262.03 395.8,262.6 C395.15,263.17 393.72,263.27 393.3,263.4" fill="none" stroke="#111" stroke-width="1.15" stroke-linecap="round" stroke-linejoin="round"/>
<path d="M397.2,252.5 Q398.4,257 396.2,262" fill="none" stroke="#111" stroke-width="1.0" stroke-linecap="round" stroke-linejoin="round"/>
<path d="M381.4,267.3 C382.18,265.93 383.73,265.1 385.5,265 C387.27,264.9 389.75,266.65 392,266.7 C394.25,266.75 396.95,264.82 399,265.3 C401.05,265.78 403.52,267.7 404.3,269.6 C405.08,271.5 404.38,274.93 403.7,276.7 C403.02,278.47 401.07,278.83 400.2,280.2 C399.33,281.57 399.08,283.23 398.5,284.9 C397.92,286.57 397.58,289.02 396.7,290.2 C395.82,291.38 394.57,292 393.2,292 C391.83,292 389.68,291.58 388.5,290.2 C387.32,288.82 386.88,285.65 386.1,283.7 C385.32,281.75 384.68,280.25 383.8,278.5 C382.92,276.75 381.2,275.07 380.8,273.2 C380.4,271.33 380.62,268.67 381.4,267.3Z" fill="none" stroke="#111" stroke-width="1.05" stroke-linecap="round" stroke-linejoin="round"/>
<circle cx="383.8" cy="269" r="0.55" fill="#111"/>
<circle cx="387.3" cy="268.5" r="0.55" fill="#111"/>
<circle cx="390.2" cy="269.6" r="0.55" fill="#111"/>
<circle cx="396.7" cy="269.6" r="0.55" fill="#111"/>
<circle cx="400.2" cy="269" r="0.55" fill="#111"/>
<circle cx="402.6" cy="270.2" r="0.55" fill="#111"/>
<circle cx="383.2" cy="273.2" r="0.55" fill="#111"/>
<circle cx="386.1" cy="274.9" r="0.55" fill="#111"/>
<circle cx="402.6" cy="273.2" r="0.55" fill="#111"/>
<circle cx="397.9" cy="276.1" r="0.55" fill="#111"/>
<circle cx="400.8" cy="276.1" r="0.55" fill="#111"/>
<circle cx="390.2" cy="283.1" r="0.55" fill="#111"/>
<circle cx="396.7" cy="282.6" r="0.55" fill="#111"/>
<circle cx="390.2" cy="286.1" r="0.55" fill="#111"/>
<circle cx="396.7" cy="285.5" r="0.55" fill="#111"/>
<circle cx="391.4" cy="289" r="0.55" fill="#111"/>
<circle cx="394.3" cy="288.4" r="0.55" fill="#111"/>
<path d="M372.6,315.3 C372.08,314.97 370.48,313.6 369.5,313.3 C368.52,313 367.45,312.98 366.7,313.5 C365.95,314.02 365.08,315.13 365,316.4 C364.92,317.67 365.52,319.53 366.2,321.1 C366.88,322.67 368.13,324.43 369.1,325.8 C370.07,327.17 371.52,328.72 372,329.3" fill="none" stroke="#111" stroke-width="1.05" stroke-linecap="round" stroke-linejoin="round"/>
<ellipse cx="372" cy="328.8" rx="1.1" ry="1.9" fill="#111"/>
<path d="M399.3,384.3 C399.8,384.3 401.45,383.7 402.3,384.3 C403.15,384.9 404.22,386.52 404.4,387.9 C404.58,389.28 404.05,391.03 403.4,392.6 C402.75,394.17 401.28,396.62 400.5,397.3 C399.72,397.98 399.68,397.88 398.7,396.7 C397.72,395.52 394.98,391.77 394.6,390.2 C394.22,388.63 395.62,388.28 396.4,387.3 C397.18,386.32 398.82,384.8 399.3,384.3" fill="none" stroke="#111" stroke-width="1.05" stroke-linecap="round" stroke-linejoin="round"/>
<path d="M399.9,397.3 C400.2,398.08 401.1,400.63 401.7,402 C402.3,403.37 402.97,404.58 403.5,405.5 C404.03,406.42 404.67,407.17 404.9,407.5" fill="none" stroke="#111" stroke-width="1.05" stroke-linecap="round" stroke-linejoin="round"/>
<path d="M404.9,407.5 C404.52,407.33 403.38,406.58 402.6,406.5 C401.82,406.42 401.58,406.32 400.2,407 C398.82,407.68 396.25,409.22 394.3,410.6 C392.35,411.98 390.15,413.55 388.5,415.3 C386.85,417.05 385.28,419.25 384.4,421.1 C383.52,422.95 383.1,424.63 383.2,426.4 C383.3,428.17 384.12,430.43 385,431.7 C385.88,432.97 386.95,433.62 388.5,434 C390.05,434.38 392.55,433.8 394.3,434 C396.05,434.2 397.62,434.6 399,435.2 C400.38,435.8 401.52,437.2 402.6,437.6 C403.68,438 404.82,438.2 405.5,437.6 C406.18,437 406.7,435.57 406.7,434 C406.7,432.43 406,430.15 405.5,428.2 C405,426.25 404.1,424.07 403.7,422.3 C403.3,420.53 403,419.37 403.1,417.6 C403.2,415.83 404,413.38 404.3,411.7 C404.6,410.02 404.8,408.2 404.9,407.5" fill="none" stroke="#111" stroke-width="1.05" stroke-linecap="round" stroke-linejoin="round"/>
<path d="M404.5,438 C404.37,438.5 403.9,439.83 403.7,441 C403.5,442.17 403.28,443.67 403.3,445 C403.32,446.33 403.72,448.33 403.8,449" fill="none" stroke="#111" stroke-width="1.05" stroke-linecap="round" stroke-linejoin="round"/>
<circle cx="401.5" cy="410.5" r="0.55" fill="#111"/>
<circle cx="399.5" cy="413.5" r="0.55" fill="#111"/>
<circle cx="401" cy="416.5" r="0.55" fill="#111"/>
<circle cx="391.5" cy="419.5" r="0.55" fill="#111"/>
<circle cx="389" cy="421" r="0.55" fill="#111"/>
<circle cx="386.6" cy="423.5" r="0.55" fill="#111"/>
<circle cx="386" cy="426.5" r="0.55" fill="#111"/>
<circle cx="387" cy="429.5" r="0.55" fill="#111"/>
<circle cx="390.5" cy="429.7" r="0.55" fill="#111"/>
<circle cx="393" cy="429.2" r="0.55" fill="#111"/>
<circle cx="395.5" cy="428.6" r="0.55" fill="#111"/>
<circle cx="401" cy="428.5" r="0.55" fill="#111"/>
<circle cx="402.2" cy="431" r="0.55" fill="#111"/>
<circle cx="403.2" cy="434" r="0.55" fill="#111"/>
<circle cx="393.5" cy="420.5" r="0.55" fill="#111"/>
<path d="M375.2,448.3 L383.8,448.3" fill="none" stroke="#111" stroke-width="1.0" stroke-linecap="round" stroke-linejoin="round"/>
<path d="M375.6,448 C375.6,449.33 375.53,453.33 375.6,456 C375.67,458.67 375.85,461.67 376,464 C376.15,466.33 376.42,469 376.5,470" fill="none" stroke="#111" stroke-width="1.05" stroke-linecap="round" stroke-linejoin="round"/>
<circle cx="378" cy="450.5" r="0.4" fill="#111"/>
<circle cx="380" cy="450.3" r="0.4" fill="#111"/>
<ellipse cx="390.6" cy="476.4" rx="15" ry="29" fill="none" stroke="#111" stroke-width="1.15" transform="rotate(-3 390.6 476.4)"/>
<ellipse cx="390.8" cy="477.5" rx="11.5" ry="22" fill="none" stroke="#111" stroke-width="1.1" transform="rotate(-3 390.8 477.5)"/>
<ellipse cx="390.4" cy="477.5" rx="7.9" ry="15.9" fill="none" stroke="#111" stroke-width="1.1" transform="rotate(-3 390.4 477.5)"/>
<clipPath id="pc"><ellipse cx="390.4" cy="477.5" rx="7.3" ry="15.3" transform="rotate(-3 390.4 477.5)"/></clipPath>
<g clip-path="url(#pc)"><rect x="382" y="460" width="17" height="5.5" fill="#1a1a1a"/><rect x="382" y="465.5" width="17" height="7.5" fill="#d6d6d6"/><rect x="382" y="473" width="17" height="2.8" fill="#1a1a1a"/><rect x="382" y="475.8" width="17" height="5.4" fill="#dadada"/><rect x="382" y="481.2" width="17" height="3" fill="#1a1a1a"/><rect x="382" y="484.2" width="17" height="4.8" fill="#d6d6d6"/><rect x="382" y="489" width="17" height="6" fill="#1a1a1a"/></g>
<path d="M493.1,82.5 L498.3,82.4 L499.7,234.3 L492.3,234.3 L493.9,195 L493.3,140Z" fill="#e0e0e0"/>
<path d="M530.2,81.8 L536.4,81.6 L534.8,140 L534.1,190 L534,234.3 L527.3,234.3Z" fill="#e0e0e0"/>
<ellipse cx="495.2" cy="83.38" rx="0.84" ry="0.87" fill="#3a3a3a" transform="rotate(23 495.2 83.2)"/>
<ellipse cx="496.09" cy="84.29" rx="0.45" ry="0.7" fill="#555"/>
<ellipse cx="494.82" cy="85.6" rx="0.74" ry="1.04" fill="#3a3a3a" transform="rotate(25 494.82 85.5)"/>
<ellipse cx="496.93" cy="85.65" rx="0.45" ry="0.7" fill="#555"/>
<ellipse cx="494.85" cy="88.55" rx="0.98" ry="1.38" fill="#3a3a3a" transform="rotate(5 494.85 87.8)"/>
<ellipse cx="494.84" cy="88.47" rx="0.45" ry="0.7" fill="#555"/>
<ellipse cx="494.53" cy="90.6" rx="0.79" ry="1.37" fill="#3a3a3a" transform="rotate(26 494.53 90.1)"/>
<ellipse cx="494.69" cy="93.1" rx="0.84" ry="1.17" fill="#3a3a3a" transform="rotate(25 494.69 92.4)"/>
<ellipse cx="496.06" cy="95.44" rx="0.77" ry="1.33" fill="#3a3a3a" transform="rotate(-5 496.06 94.7)"/>
<ellipse cx="497.34" cy="95.13" rx="0.45" ry="0.7" fill="#555"/>
<ellipse cx="494.92" cy="97.22" rx="0.9" ry="0.88" fill="#3a3a3a" transform="rotate(-7 494.92 97)"/>
<ellipse cx="497.2" cy="100.18" rx="0.68" ry="1.78" fill="#3a3a3a" transform="rotate(-30 497.2 99.3)"/>
<ellipse cx="494.6" cy="102.01" rx="0.97" ry="1.22" fill="#3a3a3a" transform="rotate(40 494.6 101.6)"/>
<ellipse cx="496.05" cy="102.55" rx="0.45" ry="0.7" fill="#555"/>
<ellipse cx="497.03" cy="104.31" rx="0.71" ry="1.3" fill="#3a3a3a" transform="rotate(13 497.03 103.9)"/>
<ellipse cx="494.33" cy="104.22" rx="0.45" ry="0.7" fill="#555"/>
<ellipse cx="496.59" cy="106.28" rx="0.88" ry="1.11" fill="#3a3a3a" transform="rotate(28 496.59 106.2)"/>
<ellipse cx="497.07" cy="108.84" rx="0.72" ry="1.47" fill="#3a3a3a" transform="rotate(-43 497.07 108.5)"/>
<ellipse cx="495.31" cy="111.53" rx="0.77" ry="1.02" fill="#3a3a3a" transform="rotate(-9 495.31 110.8)"/>
<ellipse cx="494.89" cy="111.27" rx="0.45" ry="0.7" fill="#555"/>
<ellipse cx="497.29" cy="113.2" rx="0.75" ry="1.35" fill="#3a3a3a" transform="rotate(-28 497.29 113.1)"/>
<ellipse cx="497.28" cy="115.73" rx="0.74" ry="1.16" fill="#3a3a3a" transform="rotate(3 497.28 115.4)"/>
<ellipse cx="494.5" cy="117.91" rx="0.65" ry="1.03" fill="#3a3a3a" transform="rotate(17 494.5 117.7)"/>
<ellipse cx="494.62" cy="120.34" rx="0.62" ry="1.33" fill="#3a3a3a" transform="rotate(33 494.62 120)"/>
<ellipse cx="497.68" cy="123.13" rx="0.78" ry="1.42" fill="#3a3a3a" transform="rotate(41 497.68 122.3)"/>
<ellipse cx="495.71" cy="125.65" rx="0.98" ry="1.48" fill="#3a3a3a" transform="rotate(26 495.71 124.6)"/>
<ellipse cx="495.48" cy="124.72" rx="0.45" ry="0.7" fill="#555"/>
<ellipse cx="496.43" cy="126.97" rx="0.58" ry="1.01" fill="#3a3a3a" transform="rotate(-25 496.43 126.9)"/>
<ellipse cx="496.3" cy="127.02" rx="0.45" ry="0.7" fill="#555"/>
<ellipse cx="496.17" cy="129.84" rx="0.98" ry="1.41" fill="#3a3a3a" transform="rotate(-36 496.17 129.2)"/>
<ellipse cx="496.37" cy="131.68" rx="0.66" ry="1.15" fill="#3a3a3a" transform="rotate(1 496.37 131.5)"/>
<ellipse cx="494.31" cy="132.09" rx="0.45" ry="0.7" fill="#555"/>
<ellipse cx="497.89" cy="134.38" rx="0.69" ry="0.94" fill="#3a3a3a" transform="rotate(-2 497.89 133.8)"/>
<ellipse cx="495.82" cy="136.93" rx="0.78" ry="1.01" fill="#3a3a3a" transform="rotate(22 495.82 136.1)"/>
<ellipse cx="496.7" cy="137.2" rx="0.45" ry="0.7" fill="#555"/>
<ellipse cx="497" cy="138.76" rx="0.84" ry="0.89" fill="#3a3a3a" transform="rotate(-12 497 138.4)"/>
<ellipse cx="497.65" cy="141.13" rx="0.65" ry="1.34" fill="#3a3a3a" transform="rotate(19 497.65 140.7)"/>
<ellipse cx="494.74" cy="141.67" rx="0.45" ry="0.7" fill="#555"/>
<ellipse cx="498" cy="144.02" rx="0.91" ry="1.62" fill="#3a3a3a" transform="rotate(-16 498 143)"/>
<ellipse cx="495.89" cy="143.88" rx="0.45" ry="0.7" fill="#555"/>
<ellipse cx="498.04" cy="146.25" rx="0.76" ry="0.99" fill="#3a3a3a" transform="rotate(32 498.04 145.3)"/>
<ellipse cx="495.7" cy="148.72" rx="0.99" ry="1.76" fill="#3a3a3a" transform="rotate(1 495.7 147.6)"/>
<ellipse cx="494.2" cy="148.16" rx="0.45" ry="0.7" fill="#555"/>
<ellipse cx="495.22" cy="150.48" rx="0.99" ry="1.41" fill="#3a3a3a" transform="rotate(-45 495.22 149.9)"/>
<ellipse cx="496.6" cy="150.86" rx="0.45" ry="0.7" fill="#555"/>
<ellipse cx="494.1" cy="152.99" rx="0.96" ry="1.58" fill="#3a3a3a" transform="rotate(-20 494.1 152.2)"/>
<ellipse cx="494.52" cy="153.15" rx="0.45" ry="0.7" fill="#555"/>
<ellipse cx="495.2" cy="155.46" rx="0.99" ry="1.2" fill="#3a3a3a" transform="rotate(6 495.2 154.5)"/>
<ellipse cx="494.09" cy="156.99" rx="1" ry="0.83" fill="#3a3a3a" transform="rotate(30 494.09 156.8)"/>
<ellipse cx="497.34" cy="159.28" rx="0.92" ry="1.78" fill="#3a3a3a" transform="rotate(39 497.34 159.1)"/>
<ellipse cx="494.39" cy="162.06" rx="0.56" ry="1.6" fill="#3a3a3a" transform="rotate(38 494.39 161.4)"/>
<ellipse cx="497.09" cy="161.57" rx="0.45" ry="0.7" fill="#555"/>
<ellipse cx="498.19" cy="163.93" rx="0.94" ry="0.83" fill="#3a3a3a" transform="rotate(-18 498.19 163.7)"/>
<ellipse cx="494.77" cy="164.4" rx="0.45" ry="0.7" fill="#555"/>
<ellipse cx="494.86" cy="166.5" rx="0.61" ry="1.71" fill="#3a3a3a" transform="rotate(0 494.86 166)"/>
<ellipse cx="496.73" cy="169.28" rx="0.78" ry="1.63" fill="#3a3a3a" transform="rotate(19 496.73 168.3)"/>
<ellipse cx="494.35" cy="168.91" rx="0.45" ry="0.7" fill="#555"/>
<ellipse cx="497.72" cy="171.53" rx="0.82" ry="1.58" fill="#3a3a3a" transform="rotate(-26 497.72 170.6)"/>
<ellipse cx="495.85" cy="171.47" rx="0.45" ry="0.7" fill="#555"/>
<ellipse cx="496.25" cy="173.29" rx="0.78" ry="1.36" fill="#3a3a3a" transform="rotate(-32 496.25 172.9)"/>
<ellipse cx="493.88" cy="175.43" rx="0.57" ry="0.9" fill="#3a3a3a" transform="rotate(12 493.88 175.2)"/>
<ellipse cx="497.23" cy="178.59" rx="0.75" ry="1.41" fill="#3a3a3a" transform="rotate(19 497.23 177.5)"/>
<ellipse cx="494.55" cy="180.13" rx="0.78" ry="1.61" fill="#3a3a3a" transform="rotate(19 494.55 179.8)"/>
<ellipse cx="496.96" cy="183.15" rx="0.97" ry="1.06" fill="#3a3a3a" transform="rotate(26 496.96 182.1)"/>
<ellipse cx="494.55" cy="184.94" rx="0.74" ry="1.19" fill="#3a3a3a" transform="rotate(-5 494.55 184.4)"/>
<ellipse cx="494.74" cy="184.49" rx="0.45" ry="0.7" fill="#555"/>
<ellipse cx="496.84" cy="187.64" rx="0.95" ry="0.95" fill="#3a3a3a" transform="rotate(37 496.84 186.7)"/>
<ellipse cx="494.24" cy="190.06" rx="0.99" ry="1.02" fill="#3a3a3a" transform="rotate(-33 494.24 189)"/>
<ellipse cx="495.95" cy="190.19" rx="0.45" ry="0.7" fill="#555"/>
<ellipse cx="497.67" cy="191.49" rx="0.74" ry="1.32" fill="#3a3a3a" transform="rotate(-2 497.67 191.3)"/>
<ellipse cx="495.3" cy="191.41" rx="0.45" ry="0.7" fill="#555"/>
<ellipse cx="495.35" cy="194.01" rx="0.76" ry="1.5" fill="#3a3a3a" transform="rotate(4 495.35 193.6)"/>
<ellipse cx="496.64" cy="194.21" rx="0.45" ry="0.7" fill="#555"/>
<ellipse cx="493.83" cy="197.08" rx="0.9" ry="1.77" fill="#3a3a3a" transform="rotate(-32 493.83 195.9)"/>
<ellipse cx="494.87" cy="196.99" rx="0.45" ry="0.7" fill="#555"/>
<ellipse cx="494.41" cy="199.11" rx="0.92" ry="1.65" fill="#3a3a3a" transform="rotate(41 494.41 198.2)"/>
<ellipse cx="494.8" cy="200.68" rx="0.96" ry="1.37" fill="#3a3a3a" transform="rotate(44 494.8 200.5)"/>
<ellipse cx="494.9" cy="201.46" rx="0.45" ry="0.7" fill="#555"/>
<ellipse cx="494.41" cy="203.87" rx="0.67" ry="0.82" fill="#3a3a3a" transform="rotate(-34 494.41 202.8)"/>
<ellipse cx="493.89" cy="206.13" rx="0.58" ry="1.66" fill="#3a3a3a" transform="rotate(13 493.89 205.1)"/>
<ellipse cx="498.6" cy="205.6" rx="0.45" ry="0.7" fill="#555"/>
<ellipse cx="498.21" cy="208.15" rx="0.57" ry="1.51" fill="#3a3a3a" transform="rotate(-31 498.21 207.4)"/>
<ellipse cx="494.8" cy="209.92" rx="0.97" ry="1.43" fill="#3a3a3a" transform="rotate(22 494.8 209.7)"/>
<ellipse cx="494.95" cy="212.6" rx="0.63" ry="1.15" fill="#3a3a3a" transform="rotate(-43 494.95 212)"/>
<ellipse cx="493.6" cy="214.32" rx="0.78" ry="1.78" fill="#3a3a3a" transform="rotate(20 493.6 214.3)"/>
<ellipse cx="498.37" cy="214.43" rx="0.45" ry="0.7" fill="#555"/>
<ellipse cx="497.77" cy="217.12" rx="0.77" ry="1.63" fill="#3a3a3a" transform="rotate(5 497.77 216.6)"/>
<ellipse cx="495.04" cy="219.16" rx="0.65" ry="1" fill="#3a3a3a" transform="rotate(45 495.04 218.9)"/>
<ellipse cx="494.12" cy="222.39" rx="0.99" ry="1.64" fill="#3a3a3a" transform="rotate(-44 494.12 221.2)"/>
<ellipse cx="497.38" cy="221.51" rx="0.45" ry="0.7" fill="#555"/>
<ellipse cx="494.24" cy="223.6" rx="0.93" ry="1.67" fill="#3a3a3a" transform="rotate(40 494.24 223.5)"/>
<ellipse cx="496.63" cy="226.63" rx="0.57" ry="0.99" fill="#3a3a3a" transform="rotate(-11 496.63 225.8)"/>
<ellipse cx="494.79" cy="226.95" rx="0.45" ry="0.7" fill="#555"/>
<ellipse cx="498.69" cy="228.76" rx="0.66" ry="1.77" fill="#3a3a3a" transform="rotate(-6 498.69 228.1)"/>
<ellipse cx="494.34" cy="228.5" rx="0.45" ry="0.7" fill="#555"/>
<ellipse cx="493.78" cy="230.73" rx="0.85" ry="1.05" fill="#3a3a3a" transform="rotate(-45 493.78 230.4)"/>
<ellipse cx="497.85" cy="230.57" rx="0.45" ry="0.7" fill="#555"/>
<ellipse cx="496.58" cy="233.17" rx="0.68" ry="1.43" fill="#3a3a3a" transform="rotate(-35 496.58 232.7)"/>
<ellipse cx="533.04" cy="84.1" rx="0.85" ry="1.52" fill="#3a3a3a" transform="rotate(31 533.04 83.2)"/>
<ellipse cx="532.25" cy="84.38" rx="0.45" ry="0.7" fill="#555"/>
<ellipse cx="531.52" cy="86.37" rx="0.84" ry="0.84" fill="#3a3a3a" transform="rotate(20 531.52 85.5)"/>
<ellipse cx="533.78" cy="88.77" rx="0.61" ry="1.32" fill="#3a3a3a" transform="rotate(19 533.78 87.8)"/>
<ellipse cx="534.05" cy="90.12" rx="0.86" ry="1.6" fill="#3a3a3a" transform="rotate(42 534.05 90.1)"/>
<ellipse cx="533.35" cy="92.5" rx="0.57" ry="1.44" fill="#3a3a3a" transform="rotate(-32 533.35 92.4)"/>
<ellipse cx="532.59" cy="92.46" rx="0.45" ry="0.7" fill="#555"/>
<ellipse cx="530.83" cy="95.34" rx="0.66" ry="1.06" fill="#3a3a3a" transform="rotate(13 530.83 94.7)"/>
<ellipse cx="533.7" cy="97.6" rx="0.79" ry="1.46" fill="#3a3a3a" transform="rotate(-37 533.7 97)"/>
<ellipse cx="532.57" cy="100.27" rx="0.93" ry="1.03" fill="#3a3a3a" transform="rotate(-19 532.57 99.3)"/>
<ellipse cx="533.27" cy="99.85" rx="0.45" ry="0.7" fill="#555"/>
<ellipse cx="534.02" cy="101.69" rx="0.96" ry="1.09" fill="#3a3a3a" transform="rotate(-40 534.02 101.6)"/>
<ellipse cx="533.17" cy="103.99" rx="0.62" ry="1.05" fill="#3a3a3a" transform="rotate(43 533.17 103.9)"/>
<ellipse cx="532.87" cy="103.91" rx="0.45" ry="0.7" fill="#555"/>
<ellipse cx="530.78" cy="106.52" rx="0.85" ry="1.49" fill="#3a3a3a" transform="rotate(41 530.78 106.2)"/>
<ellipse cx="533.4" cy="106.54" rx="0.45" ry="0.7" fill="#555"/>
<ellipse cx="532.38" cy="109.42" rx="1" ry="1.35" fill="#3a3a3a" transform="rotate(-6 532.38 108.5)"/>
<ellipse cx="534.26" cy="110.82" rx="0.76" ry="1.62" fill="#3a3a3a" transform="rotate(12 534.26 110.8)"/>
<ellipse cx="531.99" cy="114.2" rx="0.97" ry="0.87" fill="#3a3a3a" transform="rotate(-34 531.99 113.1)"/>
<ellipse cx="532.55" cy="114.24" rx="0.45" ry="0.7" fill="#555"/>
<ellipse cx="530.91" cy="116.38" rx="0.78" ry="1.69" fill="#3a3a3a" transform="rotate(45 530.91 115.4)"/>
<ellipse cx="532.4" cy="116.45" rx="0.45" ry="0.7" fill="#555"/>
<ellipse cx="531.94" cy="117.89" rx="0.98" ry="1.48" fill="#3a3a3a" transform="rotate(6 531.94 117.7)"/>
<ellipse cx="530.9" cy="118.11" rx="0.45" ry="0.7" fill="#555"/>
<ellipse cx="531.58" cy="121.01" rx="0.55" ry="1.55" fill="#3a3a3a" transform="rotate(5 531.58 120)"/>
<ellipse cx="534.1" cy="120.86" rx="0.45" ry="0.7" fill="#555"/>
<ellipse cx="533.96" cy="122.65" rx="0.72" ry="1.19" fill="#3a3a3a" transform="rotate(30 533.96 122.3)"/>
<ellipse cx="534.06" cy="123.21" rx="0.45" ry="0.7" fill="#555"/>
<ellipse cx="533.73" cy="124.94" rx="0.57" ry="1.46" fill="#3a3a3a" transform="rotate(36 533.73 124.6)"/>
<ellipse cx="531.18" cy="127.22" rx="0.78" ry="0.99" fill="#3a3a3a" transform="rotate(2 531.18 126.9)"/>
<ellipse cx="531.89" cy="129.23" rx="0.89" ry="1.2" fill="#3a3a3a" transform="rotate(25 531.89 129.2)"/>
<ellipse cx="533.07" cy="131.56" rx="0.88" ry="1.25" fill="#3a3a3a" transform="rotate(-28 533.07 131.5)"/>
<ellipse cx="531.22" cy="133.86" rx="0.97" ry="0.93" fill="#3a3a3a" transform="rotate(15 531.22 133.8)"/>
<ellipse cx="531.2" cy="134.11" rx="0.45" ry="0.7" fill="#555"/>
<ellipse cx="533.09" cy="136.88" rx="0.73" ry="1.04" fill="#3a3a3a" transform="rotate(16 533.09 136.1)"/>
<ellipse cx="531.59" cy="138.6" rx="0.62" ry="1.01" fill="#3a3a3a" transform="rotate(18 531.59 138.4)"/>
<ellipse cx="531.8" cy="141.1" rx="0.89" ry="1.23" fill="#3a3a3a" transform="rotate(25 531.8 140.7)"/>
<ellipse cx="530.27" cy="141.11" rx="0.45" ry="0.7" fill="#555"/>
<ellipse cx="530.22" cy="143.29" rx="0.67" ry="1.37" fill="#3a3a3a" transform="rotate(-43 530.22 143)"/>
<ellipse cx="531.56" cy="145.8" rx="0.79" ry="1.18" fill="#3a3a3a" transform="rotate(-2 531.56 145.3)"/>
<ellipse cx="531.88" cy="148.29" rx="0.71" ry="1.49" fill="#3a3a3a" transform="rotate(22 531.88 147.6)"/>
<ellipse cx="533.42" cy="150.16" rx="0.67" ry="1.05" fill="#3a3a3a" transform="rotate(6 533.42 149.9)"/>
<ellipse cx="531.52" cy="152.57" rx="0.92" ry="1.77" fill="#3a3a3a" transform="rotate(-29 531.52 152.2)"/>
<ellipse cx="532.72" cy="153.27" rx="0.45" ry="0.7" fill="#555"/>
<ellipse cx="531.67" cy="155.2" rx="0.55" ry="1.19" fill="#3a3a3a" transform="rotate(22 531.67 154.5)"/>
<ellipse cx="533.8" cy="157.1" rx="0.6" ry="0.95" fill="#3a3a3a" transform="rotate(21 533.8 156.8)"/>
<ellipse cx="530" cy="160.09" rx="0.87" ry="1.65" fill="#3a3a3a" transform="rotate(13 530 159.1)"/>
<ellipse cx="532.91" cy="159.1" rx="0.45" ry="0.7" fill="#555"/>
<ellipse cx="530.03" cy="162.08" rx="0.57" ry="1.52" fill="#3a3a3a" transform="rotate(-29 530.03 161.4)"/>
<ellipse cx="531.76" cy="164.22" rx="0.89" ry="0.9" fill="#3a3a3a" transform="rotate(-7 531.76 163.7)"/>
<ellipse cx="531.96" cy="166.47" rx="0.65" ry="1.4" fill="#3a3a3a" transform="rotate(-44 531.96 166)"/>
<ellipse cx="533.75" cy="168.63" rx="0.69" ry="1.64" fill="#3a3a3a" transform="rotate(-14 533.75 168.3)"/>
<ellipse cx="530.39" cy="168.6" rx="0.45" ry="0.7" fill="#555"/>
<ellipse cx="533.56" cy="171.45" rx="0.69" ry="0.82" fill="#3a3a3a" transform="rotate(18 533.56 170.6)"/>
<ellipse cx="532.14" cy="173" rx="0.65" ry="1.22" fill="#3a3a3a" transform="rotate(2 532.14 172.9)"/>
<ellipse cx="529.42" cy="173.31" rx="0.45" ry="0.7" fill="#555"/>
<ellipse cx="531.09" cy="176.02" rx="0.64" ry="1.6" fill="#3a3a3a" transform="rotate(19 531.09 175.2)"/>
<ellipse cx="531.43" cy="175.44" rx="0.45" ry="0.7" fill="#555"/>
<ellipse cx="532.6" cy="177.73" rx="0.76" ry="1.07" fill="#3a3a3a" transform="rotate(-8 532.6 177.5)"/>
<ellipse cx="531.96" cy="178.23" rx="0.45" ry="0.7" fill="#555"/>
<ellipse cx="533.15" cy="180.38" rx="0.96" ry="0.86" fill="#3a3a3a" transform="rotate(31 533.15 179.8)"/>
<ellipse cx="530.9" cy="180.06" rx="0.45" ry="0.7" fill="#555"/>
<ellipse cx="533.47" cy="182.27" rx="0.57" ry="0.86" fill="#3a3a3a" transform="rotate(5 533.47 182.1)"/>
<ellipse cx="532.29" cy="182.48" rx="0.45" ry="0.7" fill="#555"/>
<ellipse cx="529.56" cy="184.5" rx="0.62" ry="0.99" fill="#3a3a3a" transform="rotate(38 529.56 184.4)"/>
<ellipse cx="532.38" cy="186.74" rx="0.85" ry="1.18" fill="#3a3a3a" transform="rotate(2 532.38 186.7)"/>
<ellipse cx="530.96" cy="189.13" rx="0.59" ry="0.88" fill="#3a3a3a" transform="rotate(8 530.96 189)"/>
<ellipse cx="529.48" cy="192.46" rx="0.64" ry="1.16" fill="#3a3a3a" transform="rotate(-6 529.48 191.3)"/>
<ellipse cx="530.84" cy="193.66" rx="0.76" ry="1.17" fill="#3a3a3a" transform="rotate(12 530.84 193.6)"/>
<ellipse cx="530.53" cy="194.68" rx="0.45" ry="0.7" fill="#555"/>
<ellipse cx="528.97" cy="196.39" rx="0.92" ry="1.57" fill="#3a3a3a" transform="rotate(-40 528.97 195.9)"/>
<ellipse cx="530.95" cy="196.86" rx="0.45" ry="0.7" fill="#555"/>
<ellipse cx="529.07" cy="198.43" rx="0.58" ry="1.41" fill="#3a3a3a" transform="rotate(1 529.07 198.2)"/>
<ellipse cx="533.18" cy="198.94" rx="0.45" ry="0.7" fill="#555"/>
<ellipse cx="529.95" cy="201.36" rx="0.69" ry="1.08" fill="#3a3a3a" transform="rotate(-45 529.95 200.5)"/>
<ellipse cx="531.44" cy="203.77" rx="0.98" ry="0.87" fill="#3a3a3a" transform="rotate(-16 531.44 202.8)"/>
<ellipse cx="532" cy="203.36" rx="0.45" ry="0.7" fill="#555"/>
<ellipse cx="532.25" cy="206.05" rx="0.96" ry="1.61" fill="#3a3a3a" transform="rotate(-29 532.25 205.1)"/>
<ellipse cx="529.46" cy="208.36" rx="0.88" ry="1.62" fill="#3a3a3a" transform="rotate(-26 529.46 207.4)"/>
<ellipse cx="530.09" cy="210.08" rx="0.71" ry="1.58" fill="#3a3a3a" transform="rotate(-35 530.09 209.7)"/>
<ellipse cx="530.35" cy="212.19" rx="0.73" ry="1.45" fill="#3a3a3a" transform="rotate(16 530.35 212)"/>
<ellipse cx="530" cy="215.48" rx="0.95" ry="1.79" fill="#3a3a3a" transform="rotate(-12 530 214.3)"/>
<ellipse cx="529.41" cy="217.11" rx="0.99" ry="1.77" fill="#3a3a3a" transform="rotate(-23 529.41 216.6)"/>
<ellipse cx="530.39" cy="217.34" rx="0.45" ry="0.7" fill="#555"/>
<ellipse cx="531.56" cy="219.8" rx="0.93" ry="1.46" fill="#3a3a3a" transform="rotate(-30 531.56 218.9)"/>
<ellipse cx="529.73" cy="221.54" rx="0.67" ry="1.05" fill="#3a3a3a" transform="rotate(-12 529.73 221.2)"/>
<ellipse cx="529.51" cy="221.49" rx="0.45" ry="0.7" fill="#555"/>
<ellipse cx="529.03" cy="224.56" rx="0.81" ry="1.13" fill="#3a3a3a" transform="rotate(5 529.03 223.5)"/>
<ellipse cx="529.47" cy="224.13" rx="0.45" ry="0.7" fill="#555"/>
<ellipse cx="531.34" cy="225.92" rx="0.76" ry="0.84" fill="#3a3a3a" transform="rotate(-45 531.34 225.8)"/>
<ellipse cx="532.15" cy="226.81" rx="0.45" ry="0.7" fill="#555"/>
<ellipse cx="532.57" cy="228.15" rx="0.68" ry="0.92" fill="#3a3a3a" transform="rotate(-21 532.57 228.1)"/>
<ellipse cx="532.13" cy="230.63" rx="0.58" ry="1.31" fill="#3a3a3a" transform="rotate(-23 532.13 230.4)"/>
<ellipse cx="529.41" cy="231.33" rx="0.45" ry="0.7" fill="#555"/>
<ellipse cx="532.66" cy="232.83" rx="0.82" ry="1.42" fill="#3a3a3a" transform="rotate(-18 532.66 232.7)"/>
<ellipse cx="529.75" cy="232.75" rx="0.45" ry="0.7" fill="#555"/>
<path d="M492.9,82.5 L536.5,81.5 L534.9,140 L534.2,190 L534,234.4 L492.2,234.4 L493.8,195 L493.2,140 Z" fill="none" stroke="#111" stroke-width="1.15" stroke-linecap="round" stroke-linejoin="round"/>
<path d="M498.3,82.4 L499.7,234.3" fill="none" stroke="#111" stroke-width="0.8" stroke-linecap="round" stroke-linejoin="round"/>
<path d="M503.8,82.5 L503.3,234.3" fill="none" stroke="#111" stroke-width="0.9" stroke-linecap="round" stroke-linejoin="round"/>
<path d="M524.3,82 L521.1,234.3" fill="none" stroke="#111" stroke-width="0.9" stroke-linecap="round" stroke-linejoin="round"/>
<path d="M530.2,81.8 L527.3,234.3" fill="none" stroke="#111" stroke-width="0.8" stroke-linecap="round" stroke-linejoin="round"/>
<path d="M503.72,107.3 Q508.73,105.6 513.75,107 T523.77,106.8" fill="none" stroke="#111" stroke-width="1.9" stroke-linecap="round" stroke-linejoin="round"/>
<path d="M503.64,129.5 Q508.56,127.8 513.48,129.2 T523.31,129" fill="none" stroke="#111" stroke-width="1.9" stroke-linecap="round" stroke-linejoin="round"/>
<path d="M503.56,154.8 Q508.36,153.1 513.17,154.5 T522.77,154.3" fill="none" stroke="#111" stroke-width="1.9" stroke-linecap="round" stroke-linejoin="round"/>
<path d="M503.46,186.7 Q508.12,185 512.78,186.4 T522.1,186.2" fill="none" stroke="#111" stroke-width="1.9" stroke-linecap="round" stroke-linejoin="round"/>
<path d="M503.37,213.7 Q507.91,212 512.45,213.4 T521.53,213.2" fill="none" stroke="#111" stroke-width="1.9" stroke-linecap="round" stroke-linejoin="round"/>
<path d="M503.32,227.8 Q507.8,226.1 512.28,227.5 T521.24,227.3" fill="none" stroke="#111" stroke-width="1.9" stroke-linecap="round" stroke-linejoin="round"/>
<path d="M503.77,88.7 Q506.99,89.6 510.2,90.2 Q506.99,91 503.77,91.7Z" fill="#111" stroke="#111" stroke-width="0.6" stroke-linecap="round" stroke-linejoin="round"/>
<path d="M524.13,88.7 Q519.71,89.6 515.3,90.2 Q519.71,91 524.13,91.7Z" fill="#111" stroke="#111" stroke-width="0.6" stroke-linecap="round" stroke-linejoin="round"/>
<path d="M503.68,118 Q508.69,118.9 513.7,119.5 Q508.69,120.3 503.68,121Z" fill="#111" stroke="#111" stroke-width="0.6" stroke-linecap="round" stroke-linejoin="round"/>
<path d="M523.51,118 Q520.16,118.9 516.8,119.5 Q520.16,120.3 523.51,121Z" fill="#111" stroke="#111" stroke-width="0.6" stroke-linecap="round" stroke-linejoin="round"/>
<path d="M503.61,138.7 Q510,139.6 516.4,140.2 Q510,141 503.61,141.7Z" fill="#111" stroke="#111" stroke-width="0.6" stroke-linecap="round" stroke-linejoin="round"/>
<path d="M523.07,138.7 Q521.54,139.6 520,140.2 Q521.54,141 523.07,141.7Z" fill="#111" stroke="#111" stroke-width="0.6" stroke-linecap="round" stroke-linejoin="round"/>
<path d="M503.53,162.8 Q508.81,163.7 514.1,164.3 Q508.81,165.1 503.53,165.8Z" fill="#111" stroke="#111" stroke-width="0.6" stroke-linecap="round" stroke-linejoin="round"/>
<path d="M522.57,162.8 Q521.08,163.7 519.6,164.3 Q521.08,165.1 522.57,165.8Z" fill="#111" stroke="#111" stroke-width="0.6" stroke-linecap="round" stroke-linejoin="round"/>
<path d="M503.5,171.3 Q504.9,172.2 506.3,172.8 Q504.9,173.6 503.5,174.3Z" fill="#111" stroke="#111" stroke-width="0.6" stroke-linecap="round" stroke-linejoin="round"/>
<path d="M522.39,171.3 Q516.29,172.2 510.2,172.8 Q516.29,173.6 522.39,174.3Z" fill="#111" stroke="#111" stroke-width="0.6" stroke-linecap="round" stroke-linejoin="round"/>
<path d="M503.42,196.2 Q506.86,197.1 510.3,197.7 Q506.86,198.5 503.42,199.2Z" fill="#111" stroke="#111" stroke-width="0.6" stroke-linecap="round" stroke-linejoin="round"/>
<path d="M521.86,196.2 Q517.78,197.1 513.7,197.7 Q517.78,198.5 521.86,199.2Z" fill="#111" stroke="#111" stroke-width="0.6" stroke-linecap="round" stroke-linejoin="round"/>
<path d="M503.35,215.8 Q505.93,216.7 508.5,217.3 Q505.93,218.1 503.35,218.8Z" fill="#111" stroke="#111" stroke-width="0.6" stroke-linecap="round" stroke-linejoin="round"/>
<path d="M521.45,215.8 Q517.98,216.7 514.5,217.3 Q517.98,218.1 521.45,218.8Z" fill="#111" stroke="#111" stroke-width="0.6" stroke-linecap="round" stroke-linejoin="round"/>
<path d="M503.34,220.5 Q506.57,221.4 509.8,222 Q506.57,222.8 503.34,223.5Z" fill="#111" stroke="#111" stroke-width="0.6" stroke-linecap="round" stroke-linejoin="round"/>
<path d="M521.35,220.5 Q518.53,221.4 515.7,222 Q518.53,222.8 521.35,223.5Z" fill="#111" stroke="#111" stroke-width="0.6" stroke-linecap="round" stroke-linejoin="round"/>
<path d="M503.31,230 Q505.65,230.9 508,231.5 Q505.65,232.3 503.31,233Z" fill="#111" stroke="#111" stroke-width="0.6" stroke-linecap="round" stroke-linejoin="round"/>
<path d="M521.15,230 Q518.08,230.9 515,231.5 Q518.08,232.3 521.15,233Z" fill="#111" stroke="#111" stroke-width="0.6" stroke-linecap="round" stroke-linejoin="round"/>
<ellipse cx="511.2" cy="305.9" rx="20.7" ry="20.7" fill="none" stroke="#111" stroke-width="0.95"/>
<path d="M511.5,296.1 C512.62,296.1 513.38,299.72 514.85,300.79 C516.32,301.86 520,301.46 520.34,302.53 C520.69,303.59 517.48,305.43 516.92,307.16 C516.36,308.89 517.87,312.27 516.97,312.92 C516.06,313.58 513.32,311.1 511.5,311.1 C509.68,311.1 506.94,313.58 506.03,312.92 C505.13,312.27 506.64,308.89 506.08,307.16 C505.52,305.43 502.31,303.59 502.66,302.53 C503,301.46 506.68,301.86 508.15,300.79 C509.62,299.72 510.38,296.1 511.5,296.1Z" fill="none" stroke="#111" stroke-width="1.3" stroke-linecap="round" stroke-linejoin="round"/>
<ellipse cx="510.7" cy="382.6" rx="20.7" ry="20.7" fill="none" stroke="#111" stroke-width="0.95"/>
<path d="M510.6,374.6 C511.61,374.6 512.45,379 513.63,381.05 C514.81,383.1 518.21,386.03 517.7,386.9 C517.2,387.78 512.97,386.3 510.6,386.3 C508.23,386.3 504,387.78 503.5,386.9 C502.99,386.03 506.39,383.1 507.57,381.05 C508.75,379 509.59,374.6 510.6,374.6Z" fill="none" stroke="#111" stroke-width="1.3" stroke-linecap="round" stroke-linejoin="round"/>
<ellipse cx="510.3" cy="460.9" rx="20.6" ry="20.6" fill="none" stroke="#111" stroke-width="0.95"/>
<ellipse cx="510" cy="461.1" rx="8.2" ry="8.2" fill="none" stroke="#111" stroke-width="1.05"/></svg>
</body></html>
